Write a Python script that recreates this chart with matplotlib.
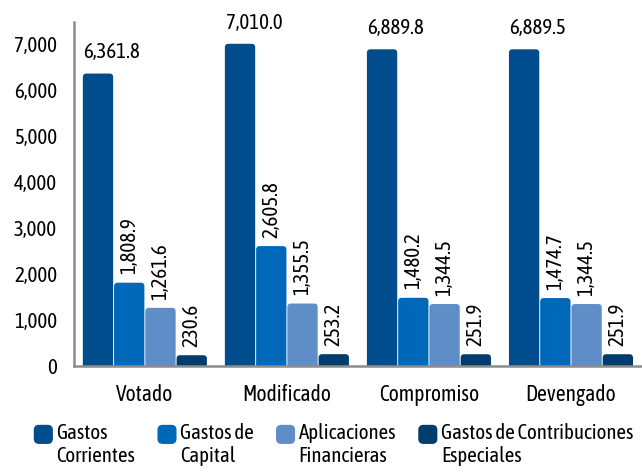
import matplotlib
matplotlib.use("Agg")
import matplotlib.pyplot as plt
import numpy as np
from matplotlib import font_manager
from matplotlib.patches import FancyBboxPatch, Patch
from matplotlib.legend_handler import HandlerPatch

names = {f.name for f in font_manager.fontManager.ttflist}
fam = next((n for n in ["Asap Condensed", "Archivo Narrow", "Liberation Sans Narrow", "Carlito", "Liberation Sans"]
            if n in names), "DejaVu Sans")
plt.rcParams.update({"font.family": [fam, "DejaVu Sans"]})

categorias = ["Votado", "Modificado", "Compromiso", "Devengado"]
series = ["Gastos\nCorrientes", "Gastos de\nCapital", "Aplicaciones\nFinancieras", "Gastos de Contribuciones\nEspeciales"]
corrientes = [6361.8, 7010.0, 6889.8, 6889.5]
capital = [1808.9, 2605.8, 1480.2, 1474.7]
aplicaciones = [1261.6, 1355.5, 1344.5, 1344.5]
especiales = [230.6, 253.2, 251.9, 251.9]
colores = ["#004C8C", "#0068B8", "#5F8DC8", "#003D6E"]

valores = [corrientes, capital, aplicaciones, especiales]
fig = plt.figure(figsize=(6.42, 4.72), dpi=100)
ax = fig.add_axes([0.115, 0.225, 0.885, 0.728])
x = np.arange(len(categorias))
w = 0.22
ax.set_xlim(-0.5, 3.5)
ax.set_ylim(0, 7480)
for i, (s, v, c) in enumerate(zip(series, valores, colores)):
    pos = x + (i - 1.5) * w
    bars = ax.bar(pos, v, w * 0.97, color=c, label=s)
    # esquinas redondeadas
    rx = 0.025
    ry = rx * 3100
    for b in bars.patches:
        bx, by, bw, bh = b.get_x(), b.get_y(), b.get_width(), b.get_height()
        b.set_visible(False)
        ax.add_patch(FancyBboxPatch((bx, by - ry), bw, bh + ry, boxstyle=f"round,pad=0,rounding_size={rx}",
                                    mutation_aspect=3100, fc=c, ec="none", zorder=2))
    for xp, val in zip(pos, v):
        if i == 0:
            ax.annotate(f"{val:,.1f}", (xp, val), xytext=(10, 8), textcoords="offset points",
                        ha="center", va="bottom", fontsize=15)
        else:
            ax.annotate(f"{val:,.1f}", (xp, val), xytext=(0, 6), textcoords="offset points",
                        ha="center", va="bottom", rotation=90, fontsize=15)

ax.set_yticks(range(0, 7001, 1000))
ax.set_yticklabels([f"{t:,}" for t in range(0, 7001, 1000)], fontsize=15)
ax.set_xticks(x)
ax.set_xticklabels(categorias, fontsize=15.5)
ax.tick_params(length=0, pad=12)
ax.tick_params(axis="x", pad=13)
for sp in ["top", "right"]:
    ax.spines[sp].set_visible(False)
for sp in ["left", "bottom"]:
    ax.spines[sp].set_color("#8c8c8c")
    ax.spines[sp].set_linewidth(1.8)
    ax.spines[sp].set_zorder(3)


def caja(legend, orig_handle, xdescent, ydescent, width, height, fontsize):
    s = fontsize * 0.85
    return FancyBboxPatch((-xdescent, -ydescent + height - s * 0.35), s, s,
                          boxstyle=f"round,pad=0,rounding_size={s * 0.25}")


handles = [Patch(color=c) for c in colores]
fig.legend(handles, series, loc="lower center", bbox_to_anchor=(0.52, -0.028), ncol=4, frameon=False,
           fontsize=15, handlelength=0.9, handleheight=0.9, handletextpad=0.15, columnspacing=1.1,
           labelspacing=0.05, handler_map={Patch: HandlerPatch(patch_func=caja)})
fig.savefig("out.png", dpi=100, facecolor="white")
